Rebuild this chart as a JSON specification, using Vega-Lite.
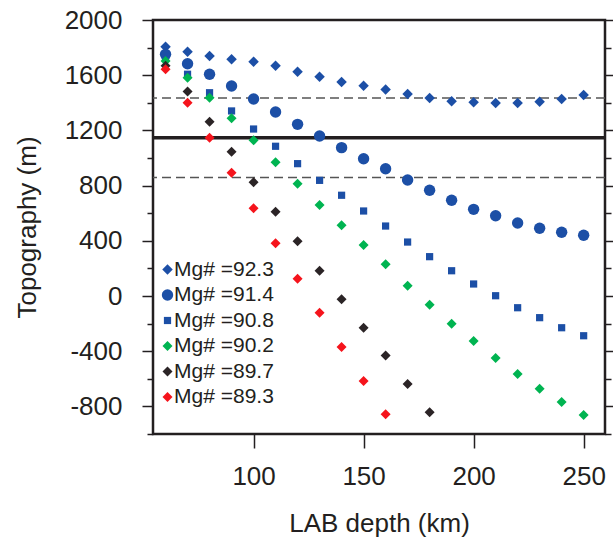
{
  "$schema": "https://vega.github.io/schema/vega-lite/v6.json",
  "width": 452,
  "height": 414,
  "autosize": {"type": "none"},
  "padding": {"left": 153, "top": 20, "right": 8, "bottom": 107},
  "background": "white",
  "config": {
    "font": "Liberation Sans",
    "view": {"stroke": "#231f20", "strokeWidth": 2.5},
    "axis": {"grid": false, "domain": false, "labelColor": "#231f20", "titleColor": "#231f20", "tickColor": "#231f20", "titleFontWeight": "normal"}
  },
  "datasets": {
    "pts": [
      {"series": "Mg# =92.3", "depth": 60, "topo": 1807},
      {"series": "Mg# =92.3", "depth": 70, "topo": 1770},
      {"series": "Mg# =92.3", "depth": 80, "topo": 1739},
      {"series": "Mg# =92.3", "depth": 90, "topo": 1715},
      {"series": "Mg# =92.3", "depth": 100, "topo": 1698},
      {"series": "Mg# =92.3", "depth": 110, "topo": 1669},
      {"series": "Mg# =92.3", "depth": 120, "topo": 1625},
      {"series": "Mg# =92.3", "depth": 130, "topo": 1589},
      {"series": "Mg# =92.3", "depth": 140, "topo": 1551},
      {"series": "Mg# =92.3", "depth": 150, "topo": 1524},
      {"series": "Mg# =92.3", "depth": 160, "topo": 1496},
      {"series": "Mg# =92.3", "depth": 170, "topo": 1464},
      {"series": "Mg# =92.3", "depth": 180, "topo": 1435},
      {"series": "Mg# =92.3", "depth": 190, "topo": 1411},
      {"series": "Mg# =92.3", "depth": 200, "topo": 1404},
      {"series": "Mg# =92.3", "depth": 210, "topo": 1399},
      {"series": "Mg# =92.3", "depth": 220, "topo": 1399},
      {"series": "Mg# =92.3", "depth": 230, "topo": 1408},
      {"series": "Mg# =92.3", "depth": 240, "topo": 1428},
      {"series": "Mg# =92.3", "depth": 250, "topo": 1457},
      {"series": "Mg# =91.4", "depth": 60, "topo": 1751},
      {"series": "Mg# =91.4", "depth": 70, "topo": 1683},
      {"series": "Mg# =91.4", "depth": 80, "topo": 1607},
      {"series": "Mg# =91.4", "depth": 90, "topo": 1522},
      {"series": "Mg# =91.4", "depth": 100, "topo": 1428},
      {"series": "Mg# =91.4", "depth": 110, "topo": 1333},
      {"series": "Mg# =91.4", "depth": 120, "topo": 1244},
      {"series": "Mg# =91.4", "depth": 130, "topo": 1159},
      {"series": "Mg# =91.4", "depth": 140, "topo": 1075},
      {"series": "Mg# =91.4", "depth": 150, "topo": 995},
      {"series": "Mg# =91.4", "depth": 160, "topo": 922},
      {"series": "Mg# =91.4", "depth": 170, "topo": 841},
      {"series": "Mg# =91.4", "depth": 180, "topo": 766},
      {"series": "Mg# =91.4", "depth": 190, "topo": 694},
      {"series": "Mg# =91.4", "depth": 200, "topo": 628},
      {"series": "Mg# =91.4", "depth": 210, "topo": 582},
      {"series": "Mg# =91.4", "depth": 220, "topo": 529},
      {"series": "Mg# =91.4", "depth": 230, "topo": 491},
      {"series": "Mg# =91.4", "depth": 240, "topo": 462},
      {"series": "Mg# =91.4", "depth": 250, "topo": 440},
      {"series": "Mg# =90.8", "depth": 60, "topo": 1735},
      {"series": "Mg# =90.8", "depth": 70, "topo": 1607},
      {"series": "Mg# =90.8", "depth": 80, "topo": 1473},
      {"series": "Mg# =90.8", "depth": 90, "topo": 1341},
      {"series": "Mg# =90.8", "depth": 100, "topo": 1210},
      {"series": "Mg# =90.8", "depth": 110, "topo": 1085},
      {"series": "Mg# =90.8", "depth": 120, "topo": 959},
      {"series": "Mg# =90.8", "depth": 130, "topo": 838},
      {"series": "Mg# =90.8", "depth": 140, "topo": 730},
      {"series": "Mg# =90.8", "depth": 150, "topo": 616},
      {"series": "Mg# =90.8", "depth": 160, "topo": 507},
      {"series": "Mg# =90.8", "depth": 170, "topo": 391},
      {"series": "Mg# =90.8", "depth": 180, "topo": 285},
      {"series": "Mg# =90.8", "depth": 190, "topo": 183},
      {"series": "Mg# =90.8", "depth": 200, "topo": 87},
      {"series": "Mg# =90.8", "depth": 210, "topo": 2},
      {"series": "Mg# =90.8", "depth": 220, "topo": -85},
      {"series": "Mg# =90.8", "depth": 230, "topo": -157},
      {"series": "Mg# =90.8", "depth": 240, "topo": -230},
      {"series": "Mg# =90.8", "depth": 250, "topo": -288},
      {"series": "Mg# =90.2", "depth": 60, "topo": 1703},
      {"series": "Mg# =90.2", "depth": 70, "topo": 1582},
      {"series": "Mg# =90.2", "depth": 80, "topo": 1437},
      {"series": "Mg# =90.2", "depth": 90, "topo": 1288},
      {"series": "Mg# =90.2", "depth": 100, "topo": 1128},
      {"series": "Mg# =90.2", "depth": 110, "topo": 969},
      {"series": "Mg# =90.2", "depth": 120, "topo": 814},
      {"series": "Mg# =90.2", "depth": 130, "topo": 660},
      {"series": "Mg# =90.2", "depth": 140, "topo": 512},
      {"series": "Mg# =90.2", "depth": 150, "topo": 370},
      {"series": "Mg# =90.2", "depth": 160, "topo": 230},
      {"series": "Mg# =90.2", "depth": 170, "topo": 75},
      {"series": "Mg# =90.2", "depth": 180, "topo": -63},
      {"series": "Mg# =90.2", "depth": 190, "topo": -201},
      {"series": "Mg# =90.2", "depth": 200, "topo": -326},
      {"series": "Mg# =90.2", "depth": 210, "topo": -449},
      {"series": "Mg# =90.2", "depth": 220, "topo": -565},
      {"series": "Mg# =90.2", "depth": 230, "topo": -672},
      {"series": "Mg# =90.2", "depth": 240, "topo": -768},
      {"series": "Mg# =90.2", "depth": 250, "topo": -862},
      {"series": "Mg# =89.7", "depth": 60, "topo": 1669},
      {"series": "Mg# =89.7", "depth": 70, "topo": 1482},
      {"series": "Mg# =89.7", "depth": 80, "topo": 1263},
      {"series": "Mg# =89.7", "depth": 90, "topo": 1046},
      {"series": "Mg# =89.7", "depth": 100, "topo": 825},
      {"series": "Mg# =89.7", "depth": 110, "topo": 611},
      {"series": "Mg# =89.7", "depth": 120, "topo": 397},
      {"series": "Mg# =89.7", "depth": 130, "topo": 183},
      {"series": "Mg# =89.7", "depth": 140, "topo": -24},
      {"series": "Mg# =89.7", "depth": 150, "topo": -230},
      {"series": "Mg# =89.7", "depth": 160, "topo": -431},
      {"series": "Mg# =89.7", "depth": 170, "topo": -638},
      {"series": "Mg# =89.7", "depth": 180, "topo": -843},
      {"series": "Mg# =89.3", "depth": 60, "topo": 1643},
      {"series": "Mg# =89.3", "depth": 70, "topo": 1401},
      {"series": "Mg# =89.3", "depth": 80, "topo": 1147},
      {"series": "Mg# =89.3", "depth": 90, "topo": 894},
      {"series": "Mg# =89.3", "depth": 100, "topo": 636},
      {"series": "Mg# =89.3", "depth": 110, "topo": 382},
      {"series": "Mg# =89.3", "depth": 120, "topo": 125},
      {"series": "Mg# =89.3", "depth": 130, "topo": -121},
      {"series": "Mg# =89.3", "depth": 140, "topo": -369},
      {"series": "Mg# =89.3", "depth": 150, "topo": -616},
      {"series": "Mg# =89.3", "depth": 160, "topo": -857}
    ],
    "lines": [
      {"kind": "mean", "level": 1147},
      {"kind": "bound", "level": 1435},
      {"kind": "bound", "level": 859}
    ]
  },
  "layer": [
    {
      "data": {"name": "lines"},
      "transform": [{"filter": "datum.kind === 'mean'"}],
      "mark": {"type": "rule", "color": "#231f20", "strokeWidth": 3.5},
      "encoding": {
        "y": {
          "field": "level", "type": "quantitative",
          "scale": {"domain": [-1000, 2000], "nice": false, "zero": false},
          "axis": {
            "orient": "right", "title": null, "labels": false,
            "values": [-1000, -800, -600, -400, -200, 0, 200, 400, 600, 800, 1000, 1200, 1400, 1600, 1800, 2000],
            "tickWidth": 1.5,
            "tickSize": {"condition": {"test": "datum.value % 400 === 0", "value": 11}, "value": 6}
          }
        }
      }
    },
    {
      "data": {"name": "lines"},
      "transform": [{"filter": "datum.kind === 'bound'"}],
      "mark": {"type": "rule", "color": "#555555", "strokeWidth": 1.5, "strokeDash": [9, 5]},
      "encoding": {
        "y": {"field": "level", "type": "quantitative", "axis": null}
      }
    },
    {
      "data": {"name": "pts"},
      "mark": {"type": "point", "filled": true, "opacity": 1, "strokeWidth": 0},
      "encoding": {
        "x": {
          "field": "depth", "type": "quantitative",
          "scale": {"domain": [54.3, 259.7], "nice": false, "zero": false},
          "axis": {
            "values": [100, 150, 200, 250], "tickSize": 14, "tickWidth": 1.5,
            "labelFontSize": 26, "labelPadding": 15, "format": "d",
            "title": "LAB depth (km)", "titleFontSize": 26, "titlePadding": 21
          }
        },
        "y": {
          "field": "topo", "type": "quantitative",
          "scale": {"domain": [-1000, 2000], "nice": false, "zero": false},
          "axis": {
            "orient": "left",
            "values": [-1000, -800, -600, -400, -200, 0, 200, 400, 600, 800, 1000, 1200, 1400, 1600, 1800, 2000],
            "labelExpr": "datum.value % 400 === 0 ? ('' + datum.value) : ''",
            "tickWidth": 1.5,
            "tickSize": {"condition": {"test": "datum.value % 400 === 0", "value": 11}, "value": 6},
            "labelFontSize": 26, "labelPadding": 20,
            "title": "Topography (m)", "titleFontSize": 26, "titlePadding": 24
          }
        },
        "color": {
          "field": "series", "type": "nominal",
          "scale": {
            "domain": ["Mg# =92.3", "Mg# =91.4", "Mg# =90.8", "Mg# =90.2", "Mg# =89.7", "Mg# =89.3"],
            "range": ["#1c4fa6", "#1c4fa6", "#1c4fa6", "#00b451", "#2b2426", "#f5141c"]
          },
          "legend": {
            "orient": "none", "legendX": 4, "legendY": 239, "title": null,
            "labelFontSize": 21, "labelColor": "#231f20", "symbolSize": 75,
            "rowPadding": 3.5, "padding": 0, "labelOffset": -4, "symbolStrokeWidth": 0
          }
        },
        "shape": {
          "field": "series", "type": "nominal",
          "scale": {
            "domain": ["Mg# =92.3", "Mg# =91.4", "Mg# =90.8", "Mg# =90.2", "Mg# =89.7", "Mg# =89.3"],
            "range": ["diamond", "circle", "square", "diamond", "diamond", "diamond"]
          },
          "legend": {
            "orient": "none", "legendX": 4, "legendY": 239, "title": null,
            "labelFontSize": 21, "labelColor": "#231f20", "symbolSize": 75,
            "rowPadding": 3.5, "padding": 0, "labelOffset": -4, "symbolStrokeWidth": 0
          }
        },
        "size": {
          "field": "series", "type": "nominal",
          "scale": {
            "type": "ordinal",
            "domain": ["Mg# =92.3", "Mg# =91.4", "Mg# =90.8", "Mg# =90.2", "Mg# =89.7", "Mg# =89.3"],
            "range": [110, 130, 52, 100, 100, 100]
          },
          "legend": null
        }
      }
    }
  ],
  "resolve": {"axis": {"y": "independent"}}
}
